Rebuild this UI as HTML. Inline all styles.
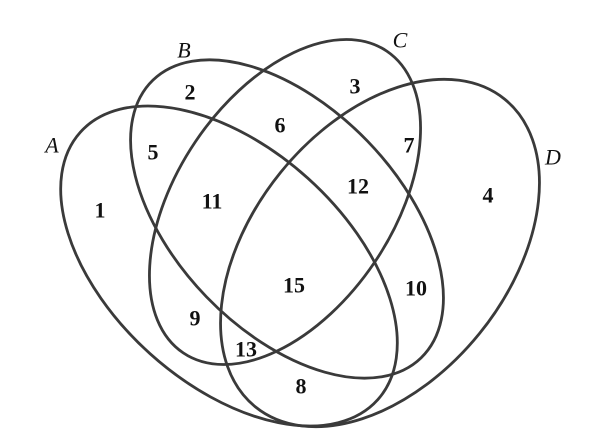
<!DOCTYPE html>
<html><head><style>
html,body{margin:0;padding:0;background:#fff;overflow:hidden;}
svg{display:block;}
text{font-family:"Liberation Serif",serif;font-size:22px;font-weight:bold;fill:#111;text-anchor:middle;dominant-baseline:central;}
text.l{font-style:italic;font-weight:normal;font-size:22px;}
</style></head><body>
<svg width="600" height="442" viewBox="0 0 600 442">
<g fill="none" stroke="#3a3a3a" stroke-width="2.8">
<ellipse cx="229" cy="266" rx="200" ry="118" transform="rotate(42 229 266)"/>
<ellipse cx="287" cy="219" rx="193" ry="112" transform="rotate(46 287 219)"/>
<ellipse cx="285" cy="202" rx="182" ry="108" transform="rotate(-56 285 202)"/>
<ellipse cx="380" cy="253" rx="198" ry="128" transform="rotate(-51 380 253)"/>
</g>
<text x="100" y="210">1</text>
<text x="190" y="92">2</text>
<text x="355" y="86">3</text>
<text x="488" y="195">4</text>
<text x="153" y="152">5</text>
<text x="280" y="125">6</text>
<text x="409" y="145">7</text>
<text x="301" y="386">8</text>
<text x="195" y="318">9</text>
<text x="416" y="288">10</text>
<text x="212" y="201">11</text>
<text x="358" y="186">12</text>
<text x="246" y="349">13</text>
<text x="294" y="285">15</text>
<text class="l" x="52" y="145">A</text>
<text class="l" x="184" y="50">B</text>
<text class="l" x="400" y="40">C</text>
<text class="l" x="553" y="157">D</text>
</svg>
</body></html>
